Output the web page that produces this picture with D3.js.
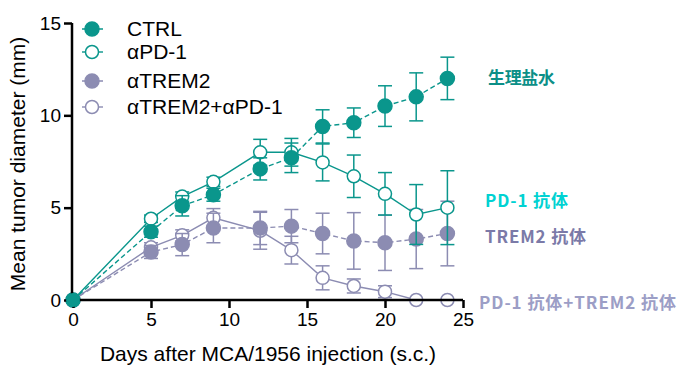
<!DOCTYPE html>
<head>
<meta charset="utf-8">
<style>
  body { margin: 0; background: white; }
  svg { background: white; font-family: 'Liberation Sans', Arial, sans-serif; }
  .axis path, .axis line { stroke: #000; stroke-width: 2.5; }
  .axis text { font-size: 19px; fill: #000; font-family: 'Liberation Sans', Arial, sans-serif; }
  .axisLabel { font-size: 21px; fill: #000; }
  .legend text { font-size: 21px; fill: #000; }
  .tag { font-family: 'Noto Sans CJK SC', sans-serif; font-weight: bold; font-size: 17px; }
</style>
</head>
<body>
<script src="https://d3js.org/d3.v7.min.js"></script>
<script>

// DATA
const days = [0, 5, 7, 9, 12, 14, 16, 18, 20, 22, 24];

const ctrl     = [0, 3.7, 5.1, 5.7, 7.1, 7.7, 9.4, 9.6, 10.5, 11.0, 12.0];
const ctrlErr  = [0, 0.3, 0.55, 0.35, 0.6, 0.8, 0.9, 0.8, 1.1, 1.3, 1.15];

const pd1      = [0, 4.4, 5.6, 6.4, 8.0, 8.0, 7.45, 6.7, 5.75, 4.63, 5.0];
const pd1Err   = [0, 0.2, 0.25, 0.25, 0.7, 0.75, 1.0, 1.15, 1.15, 1.62, 2.0];

const trem2    = [0, 2.6, 3.0, 3.9, 3.9, 4.0, 3.6, 3.2, 3.1, 3.3, 3.6];
const trem2Err = [0, 0.35, 0.6, 0.8, 0.9, 0.9, 1.1, 1.53, 1.5, 1.6, 1.75];

const combo    = [0, 2.85, 3.5, 4.45, 3.75, 2.7, 1.2, 0.76, 0.45, 0, 0];
const comboErr = [0, 0.25, 0.3, 0.5, 1.0, 0.75, 0.65, 0.38, 0.32, 0, 0];

const legendNames = ['CTRL', '\u03b1PD-1', '\u03b1TREM2', '\u03b1TREM2+\u03b1PD-1'];
const xTicks = [0, 5, 10, 15, 20, 25];
const yTicks = [0, 5, 10, 15];
const tags = ['生理盐水', 'PD-1 抗体', 'TREM2 抗体', 'PD-1 抗体+TREM2 抗体'];

// DIMENSIONS
const width = 681, height = 372;
const teal = '#0a968c', purple = '#8c8cb2';

const svg = d3.select('body').append('svg')
  .attr('width', width)
  .attr('height', height);

// SCALES
const xScale = d3.scaleLinear([0, 25], [73, 463]);
const yScale = d3.scaleLinear([0, 15], [300, 23]);

// series, drawn back to front
const series = [
  {name: legendNames[3], vals: combo, err: comboErr, color: purple, filled: false, dash: null},
  {name: legendNames[2], vals: trem2, err: trem2Err, color: purple, filled: true, dash: '5,3'},
  {name: legendNames[1], vals: pd1, err: pd1Err, color: teal, filled: false, dash: null},
  {name: legendNames[0], vals: ctrl, err: ctrlErr, color: teal, filled: true, dash: '5,3'}
];

const line = d3.line()
  .x(d => xScale(d.day))
  .y(d => yScale(d.v));

const capW = 7;

series.forEach(s => {
  const pts = days.map((d, i) => ({day: d, v: s.vals[i], e: s.err[i]}));
  const g = svg.append('g');

  // error bars
  const eb = g.selectAll('.eb').data(pts.filter(p => p.e > 0)).join('g')
    .attr('stroke', s.color)
    .attr('stroke-width', 1.5);
  eb.append('line')
    .attr('x1', p => xScale(p.day)).attr('x2', p => xScale(p.day))
    .attr('y1', p => yScale(p.v + p.e)).attr('y2', p => yScale(p.v - p.e));
  eb.append('line')
    .attr('x1', p => xScale(p.day) - capW).attr('x2', p => xScale(p.day) + capW)
    .attr('y1', p => yScale(p.v + p.e)).attr('y2', p => yScale(p.v + p.e));
  eb.append('line')
    .attr('x1', p => xScale(p.day) - capW).attr('x2', p => xScale(p.day) + capW)
    .attr('y1', p => yScale(p.v - p.e)).attr('y2', p => yScale(p.v - p.e));

  g.append('path')
    .datum(pts)
    .attr('d', line)
    .attr('fill', 'none')
    .attr('stroke', s.color)
    .attr('stroke-width', 1.4)
    .attr('stroke-dasharray', s.dash);

  g.selectAll('circle').data(pts).join('circle')
    .attr('cx', p => xScale(p.day))
    .attr('cy', p => yScale(p.v))
    .attr('r', s.filled ? 7 : 6.5)
    .attr('fill', s.filled ? s.color : 'white')
    .attr('stroke', s.color)
    .attr('stroke-width', 1.5);
});

// AXES
svg.append('g')
  .attr('class', 'axis')
  .attr('transform', 'translate(0,300)')
  .call(d3.axisBottom(xScale).tickValues(xTicks).tickSize(8).tickSizeOuter(0).tickPadding(5))
  .call(g => g.select('.domain').attr('d', 'M72,0H463'));

svg.append('g')
  .attr('class', 'axis')
  .attr('transform', 'translate(72,0)')
  .call(d3.axisLeft(yScale).tickValues(yTicks).tickSize(8).tickSizeOuter(0).tickPadding(3))
  .call(g => g.select('.domain').attr('d', 'M0,23V301'));

// redraw day-0 point above the axes
svg.append('circle')
  .attr('cx', xScale(days[0]))
  .attr('cy', yScale(ctrl[0]))
  .attr('r', 7)
  .attr('fill', teal);

// AXIS LABELS
svg.append('text')
  .attr('class', 'axisLabel')
  .attr('x', 268).attr('y', 361)
  .attr('text-anchor', 'middle')
  .text('Days after MCA/1956 injection (s.c.)');

svg.append('text')
  .attr('class', 'axisLabel')
  .attr('transform', 'translate(25,164) rotate(-90)')
  .attr('text-anchor', 'middle')
  .text('Mean tumor diameter (mm)');

// LEGEND
const legendRows = [series[3], series[2], series[1], series[0]];
const legendY = [29, 52, 81, 107];
const legend = svg.append('g').attr('class', 'legend');
legendRows.forEach((s, i) => {
  const y = legendY[i];
  legend.append('line')
    .attr('x1', 82).attr('x2', 103)
    .attr('y1', y).attr('y2', y)
    .attr('stroke', s.color)
    .attr('stroke-width', 1.4)
    .attr('stroke-dasharray', s.dash);
  legend.append('circle')
    .attr('cx', 92).attr('cy', y)
    .attr('r', s.filled ? 7 : 6.5)
    .attr('fill', s.filled ? s.color : 'white')
    .attr('stroke', s.color)
    .attr('stroke-width', 1.5);
  legend.append('text')
    .attr('x', 127).attr('y', y + 7)
    .text(s.name);
});

// RIGHT-SIDE TAGS
const tagX = [488, 485, 485, 479];
const tagY = [84, 207, 243, 309];
const tagW = [67, 83, 101, 197];
const tagColor = ['#0b8f87', '#00d2d2', '#7b7aa8', '#9c9ec6'];
tags.forEach((t, i) => {
  svg.append('text')
    .attr('class', 'tag')
    .attr('x', tagX[i]).attr('y', tagY[i])
    .attr('fill', tagColor[i])
    .attr('textLength', tagW[i])
    .attr('lengthAdjust', 'spacing')
    .text(t);
});

</script>
</body>
